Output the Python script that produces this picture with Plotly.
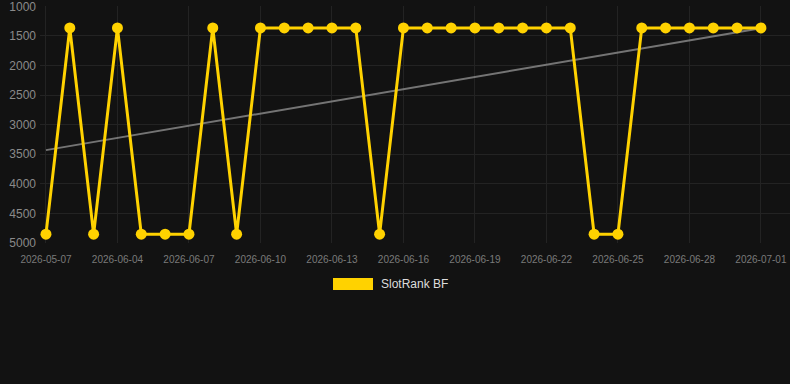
import plotly.graph_objects as go

dates = ["2026-05-07", "2026-06-02", "2026-06-03", "2026-06-04", "2026-06-05", "2026-06-06",
         "2026-06-07", "2026-06-08", "2026-06-09", "2026-06-10", "2026-06-11", "2026-06-12",
         "2026-06-13", "2026-06-14", "2026-06-15", "2026-06-16", "2026-06-17", "2026-06-18",
         "2026-06-19", "2026-06-20", "2026-06-21", "2026-06-22", "2026-06-23", "2026-06-24",
         "2026-06-25", "2026-06-26", "2026-06-27", "2026-06-28", "2026-06-29", "2026-06-30",
         "2026-07-01"]
ranks = [4850, 1365, 4850, 1365, 4850, 4850, 4850, 1365, 4850, 1365, 1365, 1365, 1365, 1365,
         4850, 1365, 1365, 1365, 1365, 1365, 1365, 1365, 1365, 4850, 4850, 1365, 1365, 1365,
         1365, 1365, 1365]
trend = [3430, 1370]
series_name = "SlotRank BF"
y_ticks = [1000, 1500, 2000, 2500, 3000, 3500, 4000, 4500, 5000]

idx = list(range(len(dates)))
tick_idx = idx[::3]
tick_txt = [dates[i] for i in tick_idx]

YELLOW = "#ffd200"
BG = "#121212"
GRID = "#232323"

fig = go.Figure()
fig.add_trace(go.Scatter(
    x=[idx[0], idx[-1]], y=trend, mode="lines",
    line=dict(color="rgba(150,150,150,0.75)", width=2),
    showlegend=False, hoverinfo="skip"))
fig.add_trace(go.Scatter(
    x=idx, y=ranks, mode="lines+markers", name=series_name,
    line=dict(color=YELLOW, width=3),
    marker=dict(color=YELLOW, size=11),
    showlegend=False))

L, B, T = 40, 141, 6
W, H = 790, 384
pw = W - L
ph = H - T - B

def px(x):
    return (x - L) / pw

def py(y):
    return (H - B - y) / ph

fig.add_shape(type="rect", xref="paper", yref="paper",
              x0=px(333), x1=px(373), y0=py(290), y1=py(278),
              fillcolor=YELLOW, line=dict(width=0))
fig.add_annotation(xref="paper", yref="paper", x=px(379), y=py(284),
                   xanchor="left", yanchor="middle", text=series_name,
                   showarrow=False, font=dict(color="#dddddd", size=12))

fig.update_layout(
    width=W, height=H,
    margin=dict(l=L, r=0, t=T, b=B),
    paper_bgcolor=BG, plot_bgcolor=BG,
    font=dict(family="Liberation Sans, Arial, sans-serif", color="#888888"),
    showlegend=False,
    xaxis=dict(range=[-0.25, 31.22], tickvals=tick_idx, ticktext=tick_txt,
               showgrid=True, gridcolor=GRID, gridwidth=1, zeroline=False,
               tickfont=dict(size=10, color="#7a7a7a"), showline=False, ticks="",
               ticklabelstandoff=9, ticklabeloverflow="allow"),
    yaxis=dict(range=[5000, 994], tickvals=y_ticks, showgrid=True, gridcolor=GRID,
               gridwidth=1, zeroline=False, tickfont=dict(size=12, color="#8a8a8a"),
               showline=False, ticks="", ticklabelstandoff=3, ticklabeloverflow="allow"),
)
fig.write_html("out.html")
